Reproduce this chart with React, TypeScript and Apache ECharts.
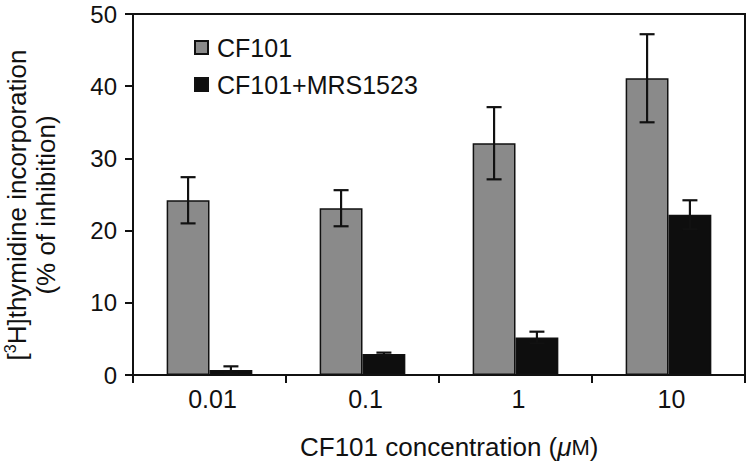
import React, { useEffect, useRef } from "react";
import * as echarts from "echarts";

const categories = ["0.01", "0.1", "1", "10"];
const cf101 = [24.2, 23.1, 32.1, 41.1];
const cf101Err = [3.2, 2.5, 5.0, 6.1];
const mrs = [0.7, 2.9, 5.2, 22.2];
const mrsErr = [0.5, 0.2, 0.8, 2.0];
const yTicks = [0, 10, 20, 30, 40, 50];

const FONT = "'Liberation Sans', Arial, Helvetica, sans-serif";
const INK = "#111111";
const GAP = 0.44;

function errorSeries(values: number[], errs: number[], side: number) {
  return {
    type: "custom",
    z: 10,
    silent: true,
    data: values.map((v, i) => [i, v, errs[i]]),
    encode: { x: 0, y: 1 },
    renderItem: (params: any, api: any) => {
      const xi = api.value(0);
      const v = api.value(1);
      const e = api.value(2);
      const catW = api.size([1, 0])[0];
      const barW = (catW * (1 - GAP)) / 2;
      const top = api.coord([xi, v + e]);
      const bot = api.coord([xi, Math.max(0, v - e)]);
      const x = top[0] + (side * barW) / 2;
      const hw = 7.5;
      const style = { stroke: INK, lineWidth: 2.2 };
      return {
        type: "group",
        children: [
          { type: "line", shape: { x1: x, y1: top[1], x2: x, y2: bot[1] }, style },
          { type: "line", shape: { x1: x - hw, y1: top[1], x2: x + hw, y2: top[1] }, style },
          { type: "line", shape: { x1: x - hw, y1: bot[1], x2: x + hw, y2: bot[1] }, style },
        ],
      };
    },
  };
}

export default function App() {
  const ref = useRef<HTMLDivElement>(null);
  useEffect(() => {
    if (!ref.current) return;
    const chart = echarts.init(ref.current, null, { renderer: "svg" });
    chart.setOption({
      animation: false,
      backgroundColor: "#ffffff",
      textStyle: { fontFamily: FONT, color: INK },
      grid: {
        left: 133,
        right: 3,
        top: 14,
        bottom: 89,
        show: true,
        borderColor: INK,
        borderWidth: 2,
        containLabel: false,
      },
      legend: {
        orient: "vertical",
        left: 189,
        top: 30,
        itemWidth: 13,
        itemHeight: 13,
        itemGap: 12,
        icon: "rect",
        data: ["CF101", "CF101+MRS1523"],
        textStyle: { fontSize: 25, color: INK, fontFamily: FONT, padding: [0, 0, 0, 4] },
      },
      xAxis: {
        type: "category",
        data: categories,
        boundaryGap: true,
        axisLine: { lineStyle: { color: INK, width: 2 } },
        axisTick: { show: true, length: 8, inside: false, lineStyle: { color: INK, width: 2 } },
        axisLabel: { fontSize: 25, color: INK, margin: 11, fontFamily: FONT, padding: [0, 0, 0, 6] },
        splitLine: { show: false },
      },
      yAxis: {
        type: "value",
        min: yTicks[0],
        max: yTicks[yTicks.length - 1],
        interval: 10,
        axisLine: { show: true, lineStyle: { color: INK, width: 2 } },
        axisTick: { show: true, length: 8, lineStyle: { color: INK, width: 2 } },
        axisLabel: { fontSize: 24, color: INK, margin: 16, fontFamily: FONT },
        splitLine: { show: false },
      },
      graphic: [
        {
          type: "text",
          x: 31,
          y: 205,
          rotation: Math.PI / 2,
          style: {
            text: "[{sup|3}H]thymidine incorporation\n(% of inhibition)",
            x: 0,
            y: 0,
            align: "center",
            verticalAlign: "middle",
            fontSize: 26,
            lineHeight: 29,
            fill: INK,
            fontFamily: FONT,
            rich: {
              sup: { fontSize: 16, verticalAlign: "top", lineHeight: 17, fontFamily: FONT, fill: INK, padding: [0, 0, 8, 0] },
            },
          },
        },
        {
          type: "text",
          left: 300,
          top: 434,
          style: {
            text: "CF101 concentration ({mu|μ}{m|M})",
            fontSize: 26,
            fill: INK,
            fontFamily: FONT,
            rich: {
              mu: { fontSize: 26, fontStyle: "italic", fontFamily: FONT, fill: INK },
              m: { fontSize: 22, fontFamily: FONT, fill: INK },
            },
          },
        },
      ],
      series: [
        {
          name: "CF101",
          type: "bar",
          data: cf101,
          barGap: "0%",
          barCategoryGap: GAP * 100 + "%",
          itemStyle: { color: "#8a8a8a", borderColor: INK, borderWidth: 1.5 },
        },
        {
          name: "CF101+MRS1523",
          type: "bar",
          data: mrs,
          barGap: "0%",
          barCategoryGap: GAP * 100 + "%",
          itemStyle: { color: "#0e0e0e", borderColor: INK, borderWidth: 1.5 },
        },
        errorSeries(cf101, cf101Err, -1),
        errorSeries(mrs, mrsErr, 1),
      ],
    });
    return () => chart.dispose();
  }, []);
  return <div ref={ref} style={{ width: 748, height: 464, position: "absolute", left: 0, top: 0 }} />;
}
